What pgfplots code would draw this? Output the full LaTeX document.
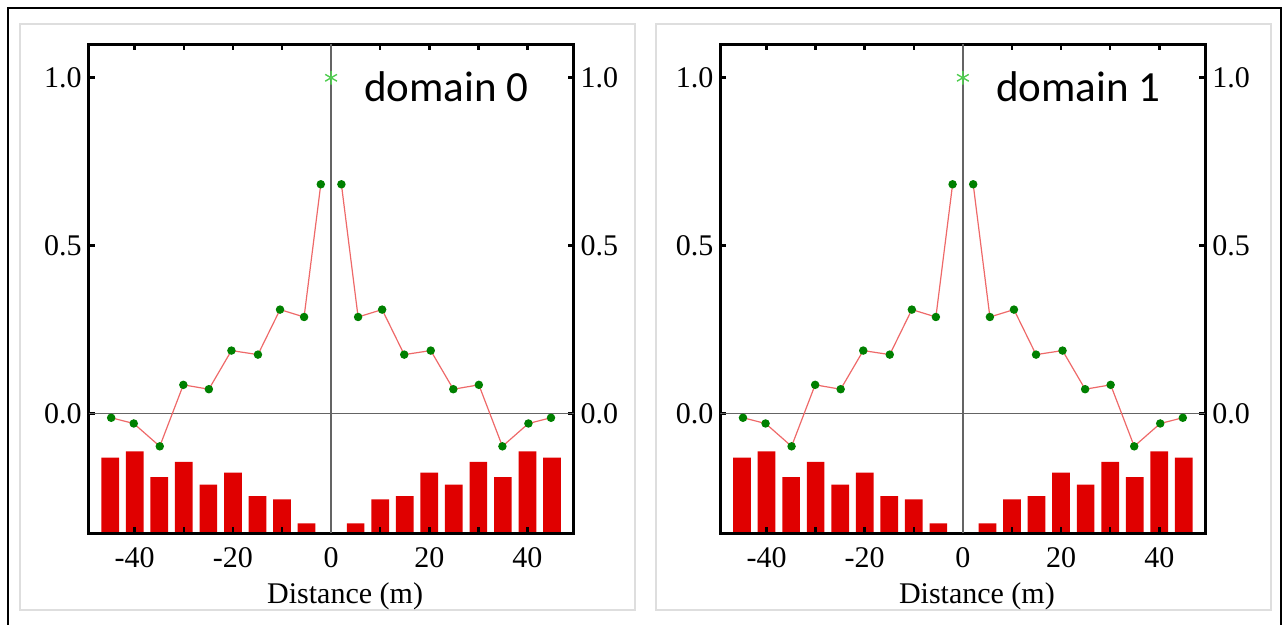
\documentclass[border=0pt]{standalone}
\usepackage{fontspec}
\setmainfont{Liberation Serif}
\newfontfamily\carlito{Carlito}
\usepackage{pgfplots}
\usepackage{pgfplotstable}
\pgfplotsset{compat=1.18}

\definecolor{barred}{RGB}{224,0,0}
\definecolor{dotgreen}{RGB}{0,128,0}
\definecolor{starg}{RGB}{80,205,80}
\definecolor{linered}{RGB}{238,105,105}
\definecolor{zerogray}{RGB}{100,100,100}
\definecolor{framegray}{RGB}{222,222,222}

% bar heights, measured up from the bottom of the axis (same units as y)
\pgfplotstableread{
x h
-45 0.224
-40 0.243
-35 0.166
-30 0.212
-25 0.144
-20 0.180
-15 0.110
-10 0.100
-5 0.029
5 0.029
10 0.100
15 0.110
20 0.180
25 0.144
30 0.212
35 0.166
40 0.243
45 0.224
}\barsdata

\pgfplotstableread{
x y
-44.8 -0.012
-40.2 -0.029
-34.9 -0.097
-30.1 0.086
-24.9 0.073
-20.3 0.188
-14.9 0.176
-10.4 0.310
-5.5 0.288
-2.1 0.683
}\leftdata

\pgfplotstableread{
x y
2.1 0.683
5.5 0.288
10.4 0.310
14.9 0.176
20.3 0.188
24.9 0.073
30.1 0.086
34.9 -0.097
40.2 -0.029
44.8 -0.012
}\rightdata

\tikzset{tlab/.style={font=\fontsize{15}{18}\selectfont}}
\pgfplotsset{
  panel/.style={scale only axis, width=242.5pt, height=244.4pt,
    xmin=-49.4, xmax=49.4, anchor=south west},
}

\newcommand\panel[2]{%
  % bars, own y scale starting at the bottom of the frame
  \begin{axis}[panel, at={(#1)}, ymin=0, ymax=1.455, hide axis,
      ybar, bar width=3.6]
    \addplot[fill=barred, draw=none] table[x=x, y=h] {\barsdata};
  \end{axis}
  % right-hand tick labels
  \begin{axis}[panel, at={(#1)}, ymin=-0.355, ymax=1.10, hide x axis,
      y axis line style={draw=none}, ytick style={draw=none},
      ytick={0,0.5,1}, yticklabels={0.0,0.5,1.0},
      yticklabel pos=right, tick label style={tlab}]
  \end{axis}
  % main axis
  \begin{axis}[panel, at={(#1)}, ymin=-0.355, ymax=1.10,
      axis line style={line width=1.5pt},
      tick align=inside, xtick pos=both, ytick pos=both, yticklabel pos=left,
      major tick length=3pt, minor tick length=3pt,
      tick style={black, line width=1.3pt},
      xtick={-40,-20,0,20,40}, xticklabels={-40,-20,0,20,40},
      minor xtick={-30,-10,10,30},
      ytick={0,0.5,1}, yticklabels={0.0,0.5,1.0},
      tick label style={tlab}, xticklabel style={yshift=-3.5pt},
      xlabel={Distance (m)},
      xlabel style={tlab, at={(axis description cs:0.5,0)}, anchor=center,
        yshift=-31.5pt, xshift=7pt}]
    \draw[zerogray, line width=0.75pt] (axis cs:0,-0.355) -- (axis cs:0,1.10);
    \draw[zerogray, line width=0.75pt] (axis cs:-49.4,0) -- (axis cs:49.4,0);
    \addplot[linered, line width=0.6pt, mark=*, mark size=1.8pt,
      mark options={dotgreen, fill=dotgreen}] table {\leftdata};
    \addplot[linered, line width=0.6pt, mark=*, mark size=1.8pt,
      mark options={dotgreen, fill=dotgreen}] table {\rightdata};
    \addplot[only marks, starg, mark=asterisk, mark size=3.4pt,
      mark options={line width=0.7pt}] coordinates {(0,1)};
    \node[anchor=base west, inner sep=0pt,
      font=\carlito\fontsize{21.5}{24}\selectfont] at (axis cs:6.7,0.93) {#2};
  \end{axis}
}

\begin{document}
\begin{tikzpicture}
  \useasboundingbox (0,0) rectangle (642.5pt,-312.5pt);
  \draw[line width=1pt] (4pt,-318pt) -- (4pt,-4pt) -- (640.5pt,-4pt) -- (640.5pt,-318pt);
  \draw[framegray, line width=1pt] (10pt,-12pt) rectangle (317.5pt,-305pt);
  \draw[framegray, line width=1pt] (328pt,-12pt) rectangle (635.5pt,-305pt);
  \panel{44.3pt,-266.5pt}{domain 0}
  \panel{360.2pt,-266.5pt}{domain 1}
\end{tikzpicture}
\end{document}
